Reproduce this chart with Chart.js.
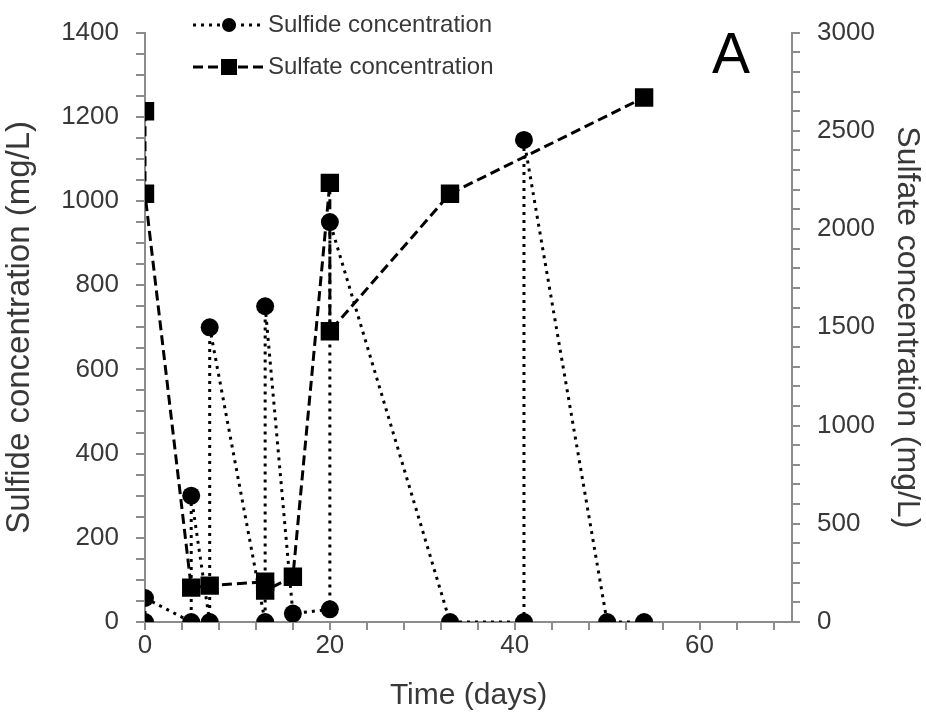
<!DOCTYPE html>
<html>
<head>
<meta charset="utf-8">
<script src="https://cdn.jsdelivr.net/npm/chart.js@4"></script>
<style>
  html, body { margin: 0; padding: 0; background: #fff; }
  #wrap { width: 926px; height: 720px; }
</style>
</head>
<body>
<div id="wrap"><canvas id="chart" width="926" height="720"></canvas></div>
<script>
// time of each sample (days) and measured concentration (mg/L)
const sulfideDays = [0, 0, 5, 5, 7, 7, 13, 13, 16, 20, 20, 33, 41, 41, 50, 54];
const sulfideMgL = [0, 57, 0, 300, 0, 700, 0, 750, 20, 30, 950, 0, 0, 1145, 0, 0];

const sulfateDays = [0, 0, 5, 7, 13, 13, 16, 20, 20, 33, 54];
const sulfateMgL = [2600, 2180, 175, 185, 205, 160, 230, 2235, 1480, 2180, 2670];

const seriesNames = ["Sulfide concentration", "Sulfate concentration"];
const panelLabel = "A";

const FONT = "'Liberation Sans', Arial, sans-serif";
const TEXT = "#383838";
const AXIS = "#8c8c8c";

function toPoints(xs, ys) {
  return xs.map((x, i) => ({ x: x, y: ys[i] }));
}

// legend in the top left corner and the panel letter
const extras = {
  id: "extras",
  afterDraw(chart) {
    const ctx = chart.ctx;
    ctx.save();
    chart.data.datasets.forEach((ds, i) => {
      const y = 25 + i * 42;
      ctx.strokeStyle = "#000";
      ctx.lineWidth = 3;
      ctx.setLineDash(ds.borderDash);
      ctx.beginPath();
      ctx.moveTo(193, y);
      ctx.lineTo(265, y);
      ctx.stroke();
      ctx.setLineDash([]);
      ctx.fillStyle = "#000";
      if (ds.pointStyle === "rect") {
        ctx.fillRect(221, y - 8, 16, 16);
      } else {
        ctx.beginPath();
        ctx.arc(229, y, 7, 0, Math.PI * 2);
        ctx.fill();
      }
      ctx.fillStyle = TEXT;
      ctx.font = "24px " + FONT;
      ctx.textBaseline = "middle";
      ctx.textAlign = "left";
      ctx.fillText(ds.label, 268, y);
    });
    ctx.fillStyle = "#000";
    ctx.font = "57px " + FONT;
    ctx.textBaseline = "alphabetic";
    ctx.fillText(panelLabel, 712, 73);
    ctx.restore();
  },
};

new Chart(document.querySelector("#chart").getContext("2d"), {
  type: "scatter",
  data: {
    datasets: [
      {
        label: seriesNames[0],
        data: toPoints(sulfideDays, sulfideMgL),
        yAxisID: "y",
        showLine: true,
        borderColor: "#000",
        backgroundColor: "#000",
        borderWidth: 3,
        borderDash: [3, 5],
        pointStyle: "circle",
        pointRadius: 9,
        pointBorderWidth: 0,
      },
      {
        label: seriesNames[1],
        data: toPoints(sulfateDays, sulfateMgL),
        yAxisID: "y1",
        showLine: true,
        borderColor: "#000",
        backgroundColor: "#000",
        borderWidth: 3,
        borderDash: [10, 5],
        pointStyle: "rect",
        pointRadius: 13,
        pointBorderWidth: 0,
      },
    ],
  },
  options: {
    responsive: false,
    animation: false,
    layout: { padding: { top: 31, left: 0, right: 0, bottom: 0 } },
    plugins: {
      legend: { display: false },
      tooltip: { enabled: false },
    },
    scales: {
      x: {
        type: "linear",
        min: 0,
        max: 70,
        afterFit: (scale) => { scale.height = 98; },
        border: { color: AXIS, width: 2 },
        grid: { drawOnChartArea: false, drawTicks: true, tickLength: 8, color: AXIS, lineWidth: 2 },
        ticks: {
          stepSize: 4,
          includeBounds: false,
          autoSkip: false,
          maxRotation: 0,
          padding: 0,
          color: TEXT,
          font: { family: FONT, size: 26 },
          callback: (v) => (v % 20 === 0 ? v : ""),
        },
        title: {
          display: true,
          text: "Time (days)",
          color: TEXT,
          font: { family: FONT, size: 30 },
          padding: { top: 0, bottom: 6 },
        },
      },
      y: {
        position: "left",
        min: 0,
        max: 1400,
        afterFit: (scale) => { scale.width = 145; },
        border: { color: AXIS, width: 2 },
        grid: { drawOnChartArea: false, drawTicks: true, tickLength: 9, color: AXIS, lineWidth: 2 },
        ticks: {
          stepSize: 50,
          autoSkip: false,
          padding: 17,
          color: TEXT,
          font: { family: FONT, size: 26 },
          callback: (v) => (v % 200 === 0 ? v : ""),
        },
        title: {
          display: true,
          text: "Sulfide concentration (mg/L)",
          color: TEXT,
          font: { family: FONT, size: 33 },
          padding: { top: 0, bottom: 0 },
        },
      },
      y1: {
        position: "right",
        min: 0,
        max: 3000,
        afterFit: (scale) => { scale.width = 134; },
        border: { color: AXIS, width: 2 },
        grid: { drawOnChartArea: false, drawTicks: true, tickLength: 8, color: AXIS, lineWidth: 2 },
        ticks: {
          stepSize: 100,
          autoSkip: false,
          padding: 17,
          color: TEXT,
          font: { family: FONT, size: 26 },
          callback: (v) => (v % 500 === 0 ? v : ""),
        },
        title: {
          display: true,
          text: "Sulfate concentration (mg/L)",
          color: TEXT,
          font: { family: FONT, size: 32 },
          padding: { top: 0, bottom: 2 },
        },
      },
    },
  },
  plugins: [extras],
});
</script>
</body>
</html>
